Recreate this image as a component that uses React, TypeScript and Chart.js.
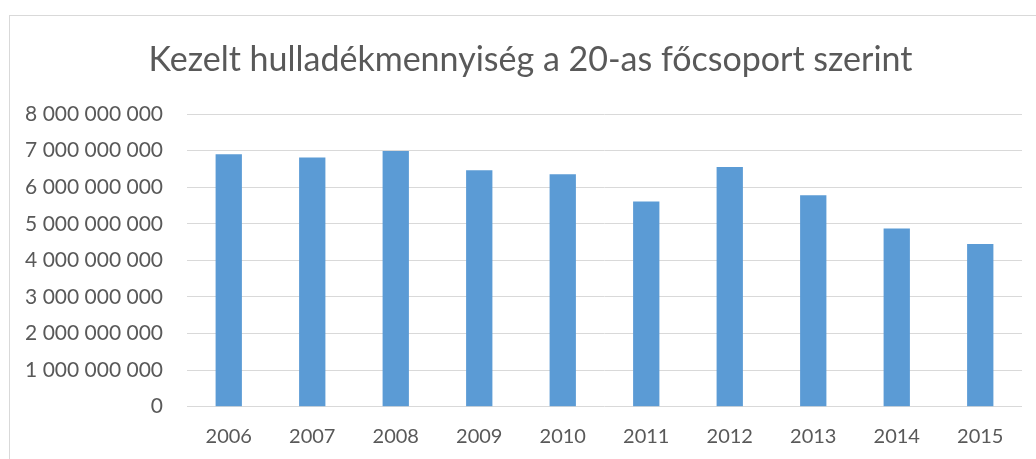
import React, { useEffect, useRef } from "react";
import { Chart, registerables } from "chart.js";

Chart.register(...registerables);

const TITLE = "Kezelt hulladékmennyiség a 20-as főcsoport szerint";
const YEARS = ["2006", "2007", "2008", "2009", "2010", "2011", "2012", "2013", "2014", "2015"];
const AMOUNTS = [
  6900000000, 6810000000, 6990000000, 6460000000, 6350000000,
  5610000000, 6550000000, 5780000000, 4870000000, 4450000000,
];
const Y_MIN = 0;
const Y_MAX = 8000000000;
const Y_STEP = 1000000000;

const TEXT_COLOR = "#595959";
const GRID_COLOR = "#d9d9d9";
const BAR_COLOR = "#5b9bd5";
const FONT = "Lato, 'Open Sans', sans-serif";

const fmt = (v: number) => Math.round(v).toString().replace(/\B(?=(\d{3})+(?!\d))/g, " ");

const framePlugin = {
  id: "frame",
  beforeDraw(chart: any) {
    const ctx = chart.ctx;
    ctx.save();
    ctx.strokeStyle = GRID_COLOR;
    ctx.lineWidth = 1;
    ctx.strokeRect(9.5, 15.5, 2000, 2000);
    ctx.restore();
  },
  afterDraw(chart: any) {
    const ctx = chart.ctx;
    ctx.save();
    ctx.fillStyle = TEXT_COLOR;
    ctx.font = `normal 34px ${FONT}`;
    ctx.textAlign = "center";
    ctx.textBaseline = "alphabetic";
    ctx.fillText(TITLE, 530.5, 71);
    ctx.restore();
  },
};

export default function App() {
  const ref = useRef<HTMLCanvasElement | null>(null);

  useEffect(() => {
    document.body.style.margin = "0";
    const canvas = ref.current;
    if (!canvas) return;
    const chart = new Chart(canvas, {
      type: "bar",
      data: {
        labels: YEARS,
        datasets: [
          {
            data: AMOUNTS,
            backgroundColor: BAR_COLOR,
            barPercentage: 0.315,
            categoryPercentage: 1,
          },
        ],
      },
      plugins: [framePlugin],
      options: {
        responsive: false,
        animation: false,
        layout: { padding: { left: 15, right: 14, top: 114, bottom: 0 } },
        plugins: {
          legend: { display: false },
          tooltip: { enabled: false },
          title: { display: false },
        },
        scales: {
          x: {
            grid: { display: false, drawTicks: false },
            border: { display: false },
            ticks: {
              color: TEXT_COLOR,
              font: { family: FONT, size: 20 },
              padding: 18,
              maxRotation: 0,
            },
            afterFit(scale: any) {
              scale.height = 52.3;
            },
          },
          y: {
            min: Y_MIN,
            max: Y_MAX,
            grid: { color: GRID_COLOR, lineWidth: 1, drawTicks: false },
            border: { display: false },
            ticks: {
              stepSize: Y_STEP,
              color: TEXT_COLOR,
              font: { family: FONT, size: 21 },
              padding: 24,
              callback: (v: any) => fmt(Number(v)),
            },
            afterFit(scale: any) {
              scale.width = 172;
            },
          },
        },
      },
    });
    return () => chart.destroy();
  }, []);

  return (
    <div style={{ position: "fixed", left: 0, top: 0, width: 1036, height: 459, background: "#fff" }}>
      <canvas ref={ref} width={1036} height={459} style={{ display: "block" }} />
    </div>
  );
}
